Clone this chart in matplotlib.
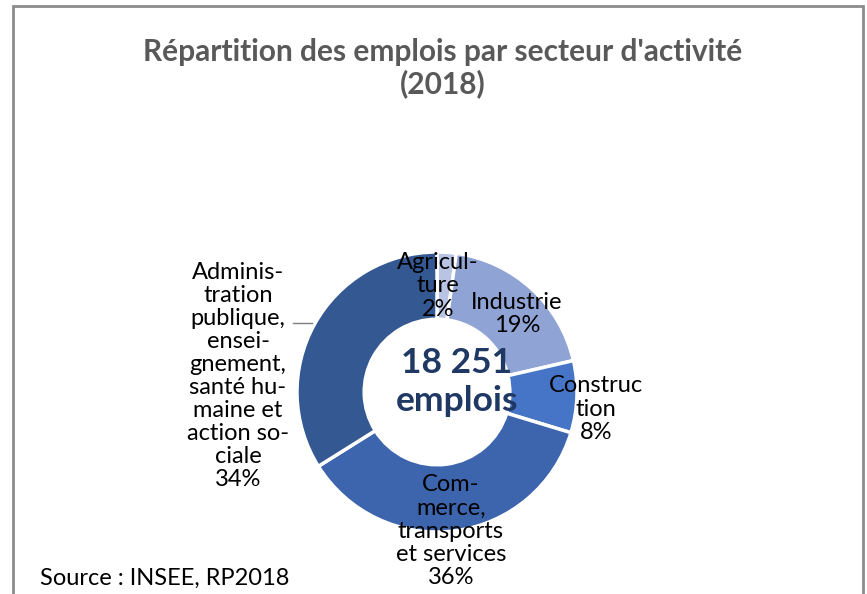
import matplotlib
matplotlib.use("Agg")
import matplotlib.pyplot as plt
from matplotlib.patches import Rectangle

# Emplois par secteur d'activité (RP2018)
secteurs = ["Agriculture", "Industrie", "Construction",
            "Commerce, transports et services",
            "Administration publique, enseignement, santé humaine et action sociale"]
emplois = [401, 3504, 1515, 6643, 6188]
libelles = ["Agricul-\nture", "Industrie", "Construc\ntion",
            "Com-\nmerce,\ntransports\net services",
            "Adminis-\ntration\npublique,\nensei-\ngnement,\nsanté hu-\nmaine et\naction so-\nciale"]
couleurs = ["#b9c3e3", "#8fa3d4", "#4674c6", "#3d65ad", "#345892"]
total_emplois = sum(emplois)

plt.rcParams["font.family"] = ["Lato", "DejaVu Sans"]

W, H = 867, 594
fig = plt.figure(figsize=(W / 100, H / 100), dpi=100)
fig.patch.set_facecolor("white")

# cadre du graphique
fig.add_artist(Rectangle((13 / W, -0.05), (863 - 13) / W, (H - 6) / H + 0.05,
                         transform=fig.transFigure, fill=False,
                         edgecolor="#8c8c8c", linewidth=2))

# anneau : centre (437, 392) px, rayon extérieur 140 px
cx, cy, R = 437, 392, 140
ax = fig.add_axes([(cx - R) / W, (H - cy - R) / H, 2 * R / W, 2 * R / H])
wedges, _ = ax.pie(emplois, colors=couleurs, startangle=90, counterclock=False,
                   radius=1.0,
                   wedgeprops=dict(width=0.48, edgecolor="white", linewidth=2.5))
ax.set_xlim(-1, 1)
ax.set_ylim(-1, 1)
ax.set_aspect("auto")
ax.axis("off")


def px(x, y):
    return ((x - cx) / R, (cy - y) / R)


pcts = [round(100 * v / total_emplois) for v in emplois]
positions = [(438, 286), (517, 314), (596, 409), (451, 531), (238, 376)]
for lib, p, (x, y) in zip(libelles, pcts, positions):
    ax.text(*px(x, y), f"{lib}\n{p}%", ha="center", va="center",
            fontsize=17, color="black", linespacing=1.12, clip_on=False)

# trait de rappel de l'étiquette Administration
ax.plot(*zip(px(293, 323), px(312, 323)), color="#7f7f7f", linewidth=1,
        clip_on=False)

# total au centre
total_txt = f"{total_emplois:,}".replace(",", " ")
ax.text(*px(457, 382), f"{total_txt}\nemplois", ha="center", va="center",
        fontsize=25.5, fontweight="bold", color="#1f3864", linespacing=1.25)

fig.text(443 / W, 1 - 68 / H,
         "Répartition des emplois par secteur d'activité\n(2018)",
         ha="center", va="center", fontsize=21.5, fontweight="bold",
         color="#595959", linespacing=1.15)

fig.text(40 / W, 1 - 578 / H, "Source : INSEE, RP2018", ha="left",
         va="center", fontsize=17, color="black")

fig.savefig("out.png", dpi=100, facecolor="white")
